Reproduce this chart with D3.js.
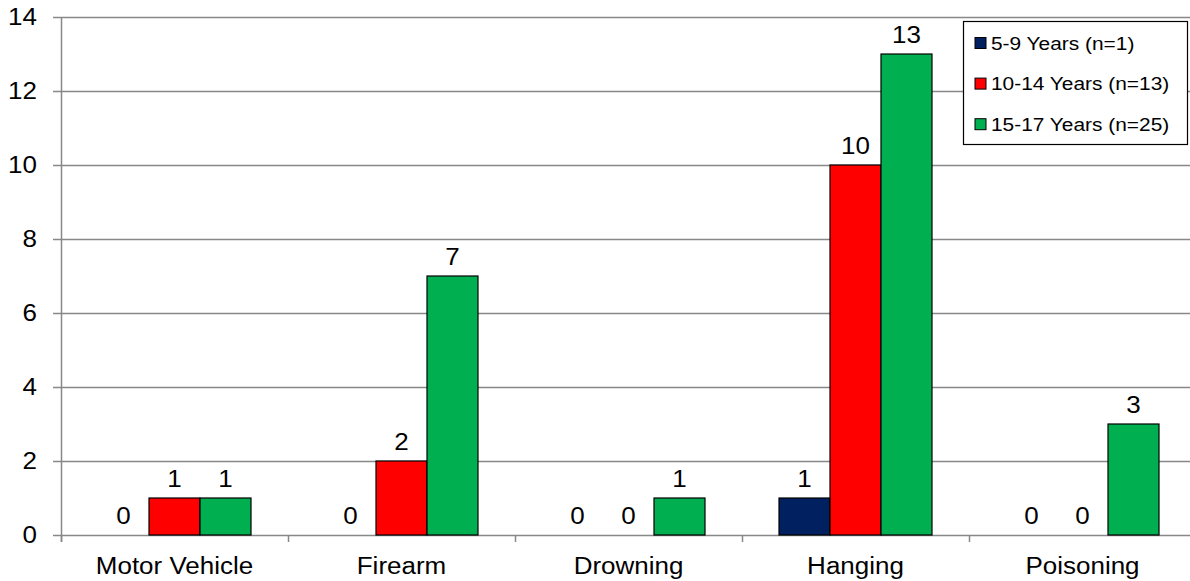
<!DOCTYPE html>
<html lang="en">
<head>
<meta charset="utf-8">
<title>Method by age group</title>
<style>
  body { margin: 0; background: #fff; }
  text { font-family: Arial, "Liberation Sans", sans-serif; fill: #000; }
</style>
<script src="https://cdn.jsdelivr.net/npm/d3@7"></script>
</head>
<body>
<svg id="chart"></svg>
<script>
// data
var categories = ["Motor Vehicle", "Firearm", "Drowning", "Hanging", "Poisoning"];
var seriesNames = ["5-9 Years (n=1)", "10-14 Years (n=13)", "15-17 Years (n=25)"];
var age5to9 = [0, 0, 0, 1, 0];
var age10to14 = [1, 2, 0, 10, 0];
var age15to17 = [1, 7, 1, 13, 3];
var yTicks = [0, 2, 4, 6, 8, 10, 12, 14];

var colors = ["#002060", "#FF0000", "#00B050"];
var series = [age5to9, age10to14, age15to17];

var width = 1190, height = 581;
var plotL = 61, plotR = 1196, plotT = 17, plotB = 535;
var stretch = 1.13; // the original text is a bit wider than Arial

var svg = d3.select("#chart").attr("width", width).attr("height", height);

var x = d3.scaleBand().domain(categories).range([plotL, plotR]).padding(0);
var xs = d3.scaleBand().domain(d3.range(series.length)).range([37, x.bandwidth() - 37]).padding(0);
var y = d3.scaleLinear().domain([0, 14]).range([plotB, plotT]);

function place(sel, fx, fy) {
  sel.attr("transform", function(d, i){
    return "translate(" + fx(d, i) + "," + fy(d, i) + ") scale(" + stretch + ",1)";
  });
}

// gridlines
svg.append("g").selectAll("line")
  .data(yTicks)
  .enter().append("line")
  .attr("x1", plotL - 8).attr("x2", width)
  .attr("y1", function(d){ return Math.round(y(d)) + 0.5; })
  .attr("y2", function(d){ return Math.round(y(d)) + 0.5; })
  .attr("stroke", "#888").attr("stroke-width", 1.5);

// y tick labels
svg.append("g").selectAll("text")
  .data(yTicks)
  .enter().append("text")
  .call(place, function(){ return 37; }, function(d){ return y(d); })
  .attr("dy", "0.36em")
  .attr("text-anchor", "end")
  .attr("font-size", 23)
  .text(function(d){ return d; });

// bars
var groups = svg.append("g").selectAll("g")
  .data(categories)
  .enter().append("g")
  .attr("transform", function(d){ return "translate(" + x(d) + ",0)"; });

groups.selectAll("rect")
  .data(function(c, ci){ return series.map(function(s, si){ return {si: si, v: s[ci]}; }); })
  .enter().filter(function(d){ return d.v > 0; }).append("rect")
  .attr("x", function(d){ return xs(d.si); })
  .attr("y", function(d){ return y(d.v); })
  .attr("width", xs.bandwidth())
  .attr("height", function(d){ return y(0) - y(d.v); })
  .attr("fill", function(d){ return colors[d.si]; })
  .attr("stroke", "#000").attr("stroke-width", 1.2);

groups.selectAll("text")
  .data(function(c, ci){ return series.map(function(s, si){ return {si: si, v: s[ci]}; }); })
  .enter().append("text")
  .call(place, function(d){ return xs(d.si) + xs.bandwidth() / 2; }, function(d){ return y(d.v) - 11; })
  .attr("text-anchor", "middle")
  .attr("font-size", 23)
  .text(function(d){ return d.v; });

// axes lines
svg.append("line")
  .attr("x1", plotL + 0.5).attr("x2", plotL + 0.5)
  .attr("y1", plotT).attr("y2", plotB + 7)
  .attr("stroke", "#888").attr("stroke-width", 1.5);

svg.append("g").selectAll("line")
  .data(d3.range(categories.length + 1))
  .enter().append("line")
  .attr("x1", function(i){ return Math.round(plotL + i * x.bandwidth()) + 0.5; })
  .attr("x2", function(i){ return Math.round(plotL + i * x.bandwidth()) + 0.5; })
  .attr("y1", plotB).attr("y2", plotB + 7)
  .attr("stroke", "#888").attr("stroke-width", 1.5);

// category labels
svg.append("g").selectAll("text")
  .data(categories)
  .enter().append("text")
  .call(place, function(d){ return x(d) + x.bandwidth() / 2; }, function(){ return 574; })
  .attr("text-anchor", "middle")
  .attr("font-size", 23)
  .text(function(d){ return d; });

// legend
var lg = svg.append("g").attr("transform", "translate(963,21)");
lg.append("rect")
  .attr("x", 0.5).attr("y", 0.5)
  .attr("width", 224).attr("height", 123)
  .attr("fill", "#fff").attr("stroke", "#000").attr("stroke-width", 1.2);
var items = lg.selectAll("g.item")
  .data(seriesNames)
  .enter().append("g")
  .attr("class", "item")
  .attr("transform", function(d, i){ return "translate(0," + (22 + i * 40.6) + ")"; });
items.append("rect")
  .attr("x", 12).attr("y", -5.5)
  .attr("width", 11).attr("height", 11)
  .attr("fill", function(d, i){ return colors[i]; })
  .attr("stroke", "#000").attr("stroke-width", 1);
items.append("text")
  .call(place, function(){ return 28; }, function(){ return 0; })
  .attr("dy", "0.36em")
  .attr("font-size", 18.5)
  .text(function(d){ return d; });
</script>
</body>
</html>
